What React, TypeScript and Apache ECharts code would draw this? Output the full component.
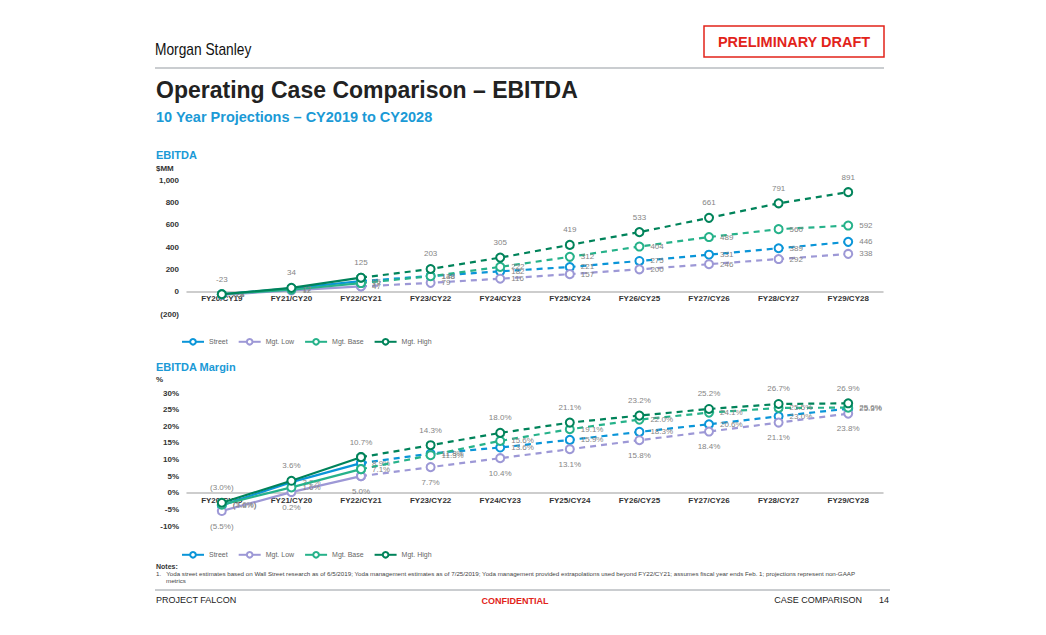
import React, { useEffect, useRef } from "react";
import * as echarts from "echarts";

const categories = ["FY20/CY19", "FY21/CY20", "FY22/CY21", "FY23/CY22", "FY24/CY23", "FY25/CY24", "FY26/CY25", "FY27/CY26", "FY28/CY27", "FY29/CY28"];
const seriesNames = ["Street", "Mgt. Low", "Mgt. Base", "Mgt. High"];
const seriesColors = ["#0a95d8", "#9d98d6", "#26b28a", "#00835a"];

const ebitdaStreet = [-24, 29, 95, 140, 182, 221, 275, 331, 389, 446];
const ebitdaLow = [-28, 12, 47, 79, 116, 157, 200, 246, 292, 338];
const ebitdaBase = [-22, 17, 77, 138, 222, 312, 404, 489, 560, 592];
const ebitdaHigh = [-23, 34, 125, 203, 305, 419, 533, 661, 791, 891];

const marginStreet = [-3.8, 3.2, 8.9, 11.8, 13.6, 15.9, 18.3, 20.6, 23.0, 25.3];
const marginLow = [-5.5, 0.2, 5.0, 7.7, 10.4, 13.1, 15.8, 18.4, 21.1, 23.8];
const marginBase = [-3.6, 1.6, 7.1, 11.3, 15.6, 19.1, 22.0, 24.1, 25.5, 25.6];
const marginHigh = [-3.0, 3.6, 10.7, 14.3, 18.0, 21.1, 23.2, 25.2, 26.7, 26.9];

const ebitdaTicks = { min: -200, max: 1000, interval: 200 };
const marginTicks = { min: -10, max: 30, interval: 5 };
const actualCount = 3; // solid segment covers first 3 points

const FONT = "'Liberation Sans', Arial, sans-serif";

function fmtEbitda(v: number) {
  return String(Math.round(v));
}
function fmtEbitdaAxis(v: number) {
  if (v < 0) return "(" + Math.abs(v).toLocaleString("en-US") + ")";
  return v.toLocaleString("en-US");
}
function fmtMargin(v: number) {
  if (v < 0) return "(" + Math.abs(v).toFixed(1) + "%)";
  return v.toFixed(1) + "%";
}

function buildSeries(
  gridIdx: number,
  dataSets: number[][],
  positions: string[],
  fmt: (v: number) => string
) {
  const out: any[] = [];
  dataSets.forEach((vals, i) => {
    const color = seriesColors[i];
    const common = {
      type: "line",
      name: seriesNames[i],
      xAxisIndex: gridIdx,
      yAxisIndex: gridIdx,
      symbol: "circle",
      symbolSize: 8,
      showAllSymbol: true,
      itemStyle: { color: "#ffffff", borderColor: color, borderWidth: 2 },
      z: 2 + i,
      label: {
        show: true,
        position: positions[i],
        distance: 6,
        color: "#858585",
        fontSize: 8,
        fontFamily: FONT,
      },
    };
    out.push({
      ...common,
      lineStyle: { color, width: 2.2, type: "solid" },
      data: vals.map((v, k) => (k < actualCount ? v : "-")),
      label: { ...common.label, formatter: (p: any) => fmt(p.value) },
    });
    out.push({
      ...common,
      lineStyle: { color, width: 2.2, type: [6, 5] },
      data: vals.map((v, k) => (k >= actualCount - 1 ? v : "-")),
      label: {
        ...common.label,
        formatter: (p: any) => (p.dataIndex === actualCount - 1 ? "" : fmt(p.value)),
      },
    });
  });
  return out;
}

export default function App() {
  const ref = useRef<HTMLDivElement>(null);
  useEffect(() => {
    document.body.style.margin = "0";
    const chart = echarts.init(ref.current!, undefined, { renderer: "svg" });

    const axisLabelStyle = { color: "#333", fontSize: 8, fontWeight: "bold" as const, fontFamily: FONT };

    const xAxisBase = (gridIndex: number, margin: number) => ({
      type: "category",
      gridIndex,
      data: categories,
      boundaryGap: true,
      axisLine: { onZero: true, lineStyle: { color: "#bdbdbd", width: 1.5 } },
      axisTick: { show: false },
      axisLabel: { ...axisLabelStyle, margin },
    });

    const legendBase = (top: number) => ({
      data: seriesNames,
      left: 176,
      top,
      itemWidth: 22,
      itemHeight: 7,
      itemGap: 10,
      textStyle: { color: "#666", fontSize: 7, fontFamily: FONT },
    });

    const option: any = {
      animation: false,
      backgroundColor: "#ffffff",
      textStyle: { fontFamily: FONT },
      grid: [
        { left: 187, right: 163, top: 180, bottom: 321 },
        { left: 187, right: 163, top: 393, bottom: 109 },
      ],
      xAxis: [xAxisBase(0, -20), xAxisBase(1, -30)],
      yAxis: [
        {
          type: "value",
          gridIndex: 0,
          ...ebitdaTicks,
          axisLine: { show: false },
          axisTick: { show: false },
          splitLine: { show: false },
          axisLabel: { ...axisLabelStyle, margin: 8, formatter: fmtEbitdaAxis },
        },
        {
          type: "value",
          gridIndex: 1,
          ...marginTicks,
          axisLine: { show: false },
          axisTick: { show: false },
          splitLine: { show: false },
          axisLabel: { ...axisLabelStyle, margin: 8, formatter: (v: number) => v + "%" },
        },
      ],
      legend: [legendBase(333), legendBase(546)],
      series: [
        ...buildSeries(0, [ebitdaStreet, ebitdaLow, ebitdaBase, ebitdaHigh], ["right", "right", "right", "top"], fmtEbitda),
        ...buildSeries(1, [marginStreet, marginLow, marginBase, marginHigh], ["right", "bottom", "right", "top"], fmtMargin),
      ],
      graphic: [
        {
          type: "text",
          x: 155,
          y: 49,
          scaleX: 0.86,
          style: { text: "Morgan Stanley", font: "16px " + FONT, fill: "#111", verticalAlign: "middle" },
        },
        {
          type: "rect",
          shape: { x: 704, y: 26, width: 180, height: 31 },
          style: { fill: "#fff", stroke: "#e2231a", lineWidth: 1.5 },
        },
        {
          type: "text",
          x: 794,
          y: 42,
          style: { text: "PRELIMINARY DRAFT", font: "bold 14.5px " + FONT, fill: "#e2231a", align: "center", verticalAlign: "middle" },
        },
        { type: "line", shape: { x1: 155, y1: 68, x2: 884, y2: 68 }, style: { stroke: "#b8bcc0", lineWidth: 1.5 } },
        {
          type: "text",
          x: 156,
          y: 90,
          style: { text: "Operating Case Comparison – EBITDA", font: "bold 23px " + FONT, fill: "#222", verticalAlign: "middle" },
        },
        {
          type: "text",
          x: 156,
          y: 117,
          style: { text: "10 Year Projections – CY2019 to CY2028", font: "bold 14.5px " + FONT, fill: "#1b9ad6", verticalAlign: "middle" },
        },
        { type: "text", x: 156, y: 155, style: { text: "EBITDA", font: "bold 11px " + FONT, fill: "#1b9ad6", verticalAlign: "middle" } },
        { type: "text", x: 156, y: 168, style: { text: "$MM", font: "bold 8px " + FONT, fill: "#333", verticalAlign: "middle" } },
        { type: "text", x: 156, y: 367, style: { text: "EBITDA Margin", font: "bold 11px " + FONT, fill: "#1b9ad6", verticalAlign: "middle" } },
        { type: "text", x: 156, y: 379, style: { text: "%", font: "bold 8px " + FONT, fill: "#333", verticalAlign: "middle" } },
        { type: "text", x: 156, y: 566, style: { text: "Notes:", font: "bold 7px " + FONT, fill: "#333", verticalAlign: "middle" } },
        {
          type: "text",
          x: 156,
          y: 573,
          style: {
            text: "1.   Yoda street estimates based on Wall Street research as of 6/5/2019; Yoda management estimates as of 7/25/2019; Yoda management provided extrapolations used beyond FY22/CY21; assumes fiscal year ends Feb. 1; projections represent non-GAAP",
            font: "6.2px " + FONT,
            fill: "#444",
            verticalAlign: "middle",
          },
        },
        { type: "text", x: 166, y: 580, style: { text: "metrics", font: "6.2px " + FONT, fill: "#444", verticalAlign: "middle" } },
        { type: "line", shape: { x1: 155, y1: 590, x2: 890, y2: 590 }, style: { stroke: "#b8bcc0", lineWidth: 1.5 } },
        { type: "text", x: 156, y: 600, style: { text: "PROJECT FALCON", font: "9px " + FONT, fill: "#222", verticalAlign: "middle" } },
        {
          type: "text",
          x: 515,
          y: 601,
          style: { text: "CONFIDENTIAL", font: "bold 9px " + FONT, fill: "#e2231a", align: "center", verticalAlign: "middle" },
        },
        {
          type: "text",
          x: 862,
          y: 600,
          style: { text: "CASE COMPARISON", font: "9px " + FONT, fill: "#222", align: "right", verticalAlign: "middle" },
        },
        { type: "text", x: 889, y: 600, style: { text: "14", font: "9px " + FONT, fill: "#222", align: "right", verticalAlign: "middle" } },
      ],
    };
    chart.setOption(option);
    return () => chart.dispose();
  }, []);
  return <div ref={ref} style={{ position: "fixed", left: 0, top: 0, width: 1046, height: 635 }} />;
}
